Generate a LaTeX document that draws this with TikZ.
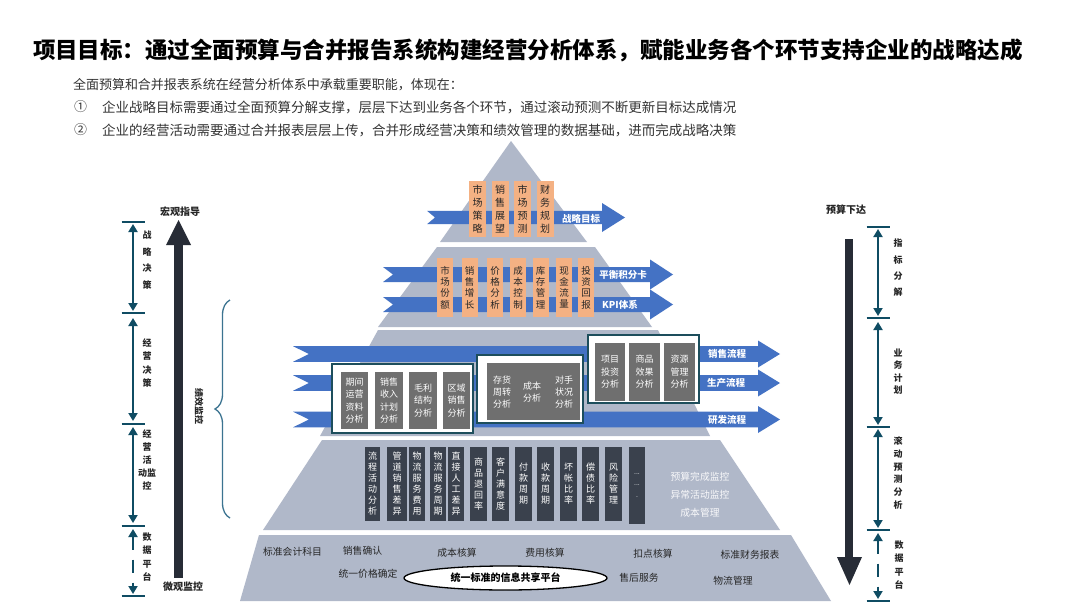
\documentclass[tikz,border=0pt]{standalone}
\usepackage{fontspec}
\setmainfont{Noto Sans CJK SC}
\usetikzlibrary{arrows.meta,decorations.pathreplacing,shapes.geometric}
\definecolor{pyr}{HTML}{B0B8C9}
\definecolor{barrow}{HTML}{4472C4}
\definecolor{peach}{HTML}{F4B183}
\definecolor{midgrey}{HTML}{6F6F6F}
\definecolor{slate}{HTML}{3A414D}
\definecolor{dimteal}{HTML}{0F4C63}
\definecolor{framec}{HTML}{1D4E5C}
\definecolor{bigar}{HTML}{272C36}
\definecolor{bracec}{HTML}{3B7390}
\definecolor{txt}{HTML}{262626}
\definecolor{subtxt}{HTML}{333333}
\newcommand{\blockarr}[7]{%
  \fill[barrow] (#1,#3-#4) -- (#2-#6,#3-#4) -- (#2-#6,#3-#5) -- (#2,#3) -- (#2-#6,#3+#5) -- (#2-#6,#3+#4) -- (#1,#3+#4) -- (#1+#7,#3) -- cycle;}
\begin{document}
\begin{tikzpicture}[x=1pt,y=-1pt,
  plain/.style={inner sep=0, outer sep=0},
  obox/.style={fill=peach, inner sep=0, text=txt, align=center},
  frame/.style={draw=framec, line width=1.5pt, fill=white, inner sep=0},
  gbox/.style={fill=midgrey, inner sep=0, text=white, align=center, minimum height=57pt, font=\fontsize{9}{12.5}\selectfont},
  gtext/.style={inner sep=0, text=white, align=center, font=\fontsize{9}{11.8}\selectfont},
  dbox/.style={fill=slate, inner sep=0, text=white, align=center, minimum height=74pt, font=\fontsize{9}{11}\selectfont},
  alabel/.style={inner sep=0, text=white, font=\fontsize{9.5}{11}\selectfont\bfseries},
  mlabel/.style={inner sep=0, text=white!92!pyr, font=\fontsize{9.8}{11}\selectfont},
  tfive/.style={inner sep=0, text=txt, font=\fontsize{9.8}{12}\selectfont},
  sidelab/.style={inner sep=0, text=txt, align=center},
  ticks/.style={draw=dimteal, line width=2.6pt},
  dimline/.style={draw=dimteal, line width=1.8pt, {Triangle[width=9pt,length=8pt]}-{Triangle[width=9pt,length=8pt]}},
  dimdash/.style={dimline, dash pattern=on 13pt off 10pt}
]
\useasboundingbox (0,0) rectangle (1080,608);
\fill[white] (0,0) rectangle (1080,608);

% ---------- title and intro ----------
\node[plain, anchor=west, font=\fontsize{22.5}{26}\selectfont\bfseries, text=black] (title) at (33,50)
  {项目目标：通过全面预算与合并报告系统构建经营分析体系，赋能业务各个环节支持企业的战略达成};
\node[plain, anchor=west, font=\fontsize{13}{15}\selectfont, text=subtxt] (s1) at (73,85)
  {全面预算和合并报表系统在经营分析体系中承载重要职能，体现在：};
\node[plain, anchor=west, font=\fontsize{13}{15}\selectfont, text=subtxt] (n1) at (74,107) {①};
\node[plain, anchor=west, font=\fontsize{13.5}{15}\selectfont, text=subtxt] (s2) at (102,107)
  {企业战略目标需要通过全面预算分解支撑，层层下达到业务各个环节，通过滚动预测不断更新目标达成情况};
\node[plain, anchor=west, font=\fontsize{13}{15}\selectfont, text=subtxt] (n2) at (74,130) {②};
\node[plain, anchor=west, font=\fontsize{13.5}{15}\selectfont, text=subtxt] (s3) at (102,130)
  {企业的经营活动需要通过合并报表层层上传，合并形成经营决策和绩效管理的数据基础，进而完成战略决策};

% ---------- pyramid tiers ----------
\fill[pyr] (511,141) -- (587,242) -- (440,242) -- cycle;
\fill[pyr] (437,247) -- (595,247) -- (652,327) -- (378,327) -- cycle;
\fill[pyr] (378,330) -- (658,330) -- (710,436) -- (320,436) -- cycle;
\fill[pyr] (322,440) -- (720,440) -- (780,530) -- (263,530) -- cycle;
\fill[pyr] (259,535) -- (791,535) -- (831,601) -- (240,601) -- cycle;

% ---------- tier 1 ----------
\blockarr{427}{625}{217.5}{6.7}{14.5}{23}{8}
\foreach \x/\t [count=\i] in {477.5/市\\场\\策\\略, 500/销\\售\\展\\望, 522.5/市\\场\\预\\测, 545/财\\务\\规\\划}
  \node[obox, minimum width=17pt, minimum height=56pt, font=\fontsize{10}{13}\selectfont] (o1\i) at (\x,209) {\t};
\node[alabel] (goal) at (581,219) {战略目标};

% ---------- tier 2 ----------
\blockarr{383}{673}{274.5}{7.5}{15}{23}{10}
\blockarr{383}{673}{304.5}{7.5}{15}{23}{10}
\foreach \x/\t [count=\i] in {445/市\\场\\份\\额, 469.5/销\\售\\增\\长, 495/价\\格\\分\\析, 518/成\\本\\控\\制, 540.5/库\\存\\管\\理, 564/现\\金\\流\\量, 586/投\\资\\回\\报}
  \node[obox, minimum width=16pt, minimum height=59pt, font=\fontsize{9.5}{11.3}\selectfont] (o2\i) at (\x,287.5) {\t};
\node[alabel] (bsc) at (623,275) {平衡积分卡};
\node[alabel] (kpi) at (620,304.5) {KPI体系};

% ---------- tier 3 ----------
\blockarr{293}{780}{354}{7.8}{13.5}{22}{16}
\blockarr{293}{780}{383}{7.8}{13.5}{22}{16}
\blockarr{293}{780}{419.5}{7.8}{13.5}{22}{16}
\node[alabel] (sale) at (727,354) {销售流程};
\node[alabel] (prod) at (726,383) {生产流程};
\node[alabel] (rd) at (727,420) {研发流程};

\node[frame, minimum width=141pt, minimum height=69pt] (fa) at (402.5,398.5) {};
\node[gbox, minimum width=27pt] (a1) at (354.5,400.5) {期间\\运营\\资料\\分析};
\node[gbox, minimum width=28pt] (a2) at (389,400.5) {销售\\收入\\计划\\分析};
\node[gbox, minimum width=28pt] (a3) at (423,400.5) {毛利\\结构\\分析};
\node[gbox, minimum width=27pt] (a4) at (456.5,400.5) {区域\\销售\\分析};

\node[frame, minimum width=106pt, minimum height=68pt] (fb) at (530,389) {};
\node[gbox, minimum width=93pt] (b0) at (533.5,391.5) {};
\node[gtext] (b1) at (502,392) {存货\\周转\\分析};
\node[gtext] (b2) at (532,392) {成本\\分析};
\node[gtext] (b3) at (564,392) {对手\\状况\\分析};

\node[frame, minimum width=111pt, minimum height=68pt] (fc) at (643.5,369) {};
\node[gbox, minimum width=30pt, minimum height=58pt] (c1) at (610,372) {项目\\投资\\分析};
\node[gbox, minimum width=31pt, minimum height=58pt] (c2) at (644.5,372) {商品\\效果\\分析};
\node[gbox, minimum width=31pt, minimum height=58pt] (c3) at (679.5,372) {资源\\管理\\分析};

% ---------- tier 4 ----------
\foreach \x/\w/\t [count=\i] in {
  372.5/15/流\\程\\活\\动\\分\\析,
  397/20/管\\道\\销\\售\\差\\异,
  417/16/物\\流\\服\\务\\费\\用,
  438/16/物\\流\\服\\务\\周\\期,
  456/16/直\\接\\人\\工\\差\\异,
  478.5/17/商\\品\\退\\回\\率,
  500.5/17/客\\户\\满\\意\\度,
  523.5/17/付\\款\\周\\期,
  545.5/17/收\\款\\周\\期,
  568.5/17/坏\\帐\\比\\率,
  590.5/17/偿\\债\\比\\率,
  613.5/17/风\\险\\管\\理}
  \node[dbox, minimum width=\w pt] (d\i) at (\x,484) {\t};
\node[dbox, minimum width=16pt, minimum height=77pt, font=\fontsize{7}{11.5}\selectfont] (dmore) at (637,485.5) {...\\...\\.};
\node[mlabel] (m1) at (700,477) {预算完成监控};
\node[mlabel] (m2) at (700,495) {异常活动监控};
\node[mlabel] (m3) at (700,513) {成本管理};

% ---------- tier 5 ----------
\node[tfive] (e1) at (292.5,551.5) {标准会计科目};
\node[tfive] (e2) at (362.5,550.5) {销售确认};
\node[tfive] (e3) at (457,552.5) {成本核算};
\node[tfive] (e4) at (545,552.5) {费用核算};
\node[tfive] (e5) at (653,553.5) {扣点核算};
\node[tfive] (e6) at (750,554.5) {标准财务报表};
\node[tfive] (e7) at (368,573.5) {统一价格确定};
\node[tfive] (e8) at (639,578) {售后服务};
\node[tfive] (e9) at (733,581) {物流管理};
\node[ellipse, draw=black, line width=1.3pt, fill=white, minimum width=203pt, minimum height=24pt, inner sep=0,
      font=\fontsize{10}{12}\selectfont\bfseries, text=black] (plat) at (505.5,578) {统一标准的信息共享平台};

% ---------- left axis ----------
\fill[bigar] (174,245) rectangle (183,578);
\fill[bigar] (166,245) -- (191,245) -- (178.5,220) -- cycle;
\node[plain, font=\fontsize{10}{12}\selectfont\bfseries, text=txt] (macro) at (180,212) {宏观指导};
\node[plain, font=\fontsize{10}{12}\selectfont\bfseries, text=txt] (micro) at (183,587) {微观监控};

\foreach \y [count=\i] in {222,313,424,526,596}
  \coordinate (L\i) at (133,\y);
\foreach \i in {1,...,5}
  \draw[ticks] ([xshift=-11.5pt]L\i) -- ([xshift=11.5pt]L\i);
\coordinate (La1) at (133,224); \coordinate (Lb1) at (133,311);
\coordinate (La2) at (133,318); \coordinate (Lb2) at (133,421);
\coordinate (La3) at (133,427); \coordinate (Lb3) at (133,523);
\coordinate (La4) at (133,529); \coordinate (Lb4) at (133,594);
\draw[dimline] (La1) -- (Lb1);
\draw[dimline] (La2) -- (Lb2);
\draw[dimline] (La3) -- (Lb3);
\draw[dimdash] (La4) -- (Lb4);
\node[sidelab, font=\fontsize{9}{16.7}\selectfont\bfseries] (lz1) at (147,260) {战\\略\\决\\策};
\node[sidelab, font=\fontsize{9}{13.3}\selectfont\bfseries] (lz2) at (147,363) {经\\营\\决\\策};
\node[sidelab, font=\fontsize{9}{13}\selectfont\bfseries] (lz3) at (147,460) {经\\营\\活\\动监\\控};
\node[sidelab, font=\fontsize{9}{13.3}\selectfont\bfseries] (lz4) at (147,557) {数\\据\\平\\台};

\draw[bracec, line width=1.3pt, decorate, decoration={brace, amplitude=15pt}] (230,518) -- (230,300);
\node[plain, rotate=-90, font=\fontsize{9}{10}\selectfont\bfseries, text=txt] (perf) at (199,406) {绩效监控};

% ---------- right axis ----------
\fill[bigar] (845,239) rectangle (853,557);
\fill[bigar] (837,557) -- (862,557) -- (849.5,585) -- cycle;
\node[plain, font=\fontsize{10}{12}\selectfont\bfseries, text=txt] (budget) at (846,210) {预算下达};

\foreach \y [count=\i] in {227,318,427,530,601}
  \coordinate (R\i) at (878,\y);
\foreach \i in {1,...,5}
  \draw[ticks] ([xshift=-11.5pt]R\i) -- ([xshift=11.5pt]R\i);
\coordinate (Ra1) at (878,229); \coordinate (Rb1) at (878,316);
\coordinate (Ra2) at (878,322); \coordinate (Rb2) at (878,425);
\coordinate (Ra3) at (878,429); \coordinate (Rb3) at (878,528);
\coordinate (Ra4) at (878,533); \coordinate (Rb4) at (878,599);
\draw[dimline] (Ra1) -- (Rb1);
\draw[dimline] (Ra2) -- (Rb2);
\draw[dimline] (Ra3) -- (Rb3);
\draw[dimdash] (Ra4) -- (Rb4);
\node[sidelab, font=\fontsize{9}{16.3}\selectfont\bfseries] (rz1) at (898,268) {指\\标\\分\\解};
\node[sidelab, font=\fontsize{9}{12.4}\selectfont\bfseries] (rz2) at (898,371.5) {业\\务\\计\\划};
\node[sidelab, font=\fontsize{9}{12.7}\selectfont\bfseries] (rz3) at (898,473) {滚\\动\\预\\测\\分\\析};
\node[sidelab, font=\fontsize{9}{13.3}\selectfont\bfseries] (rz4) at (899,565) {数\\据\\平\\台};
\end{tikzpicture}
\end{document}
